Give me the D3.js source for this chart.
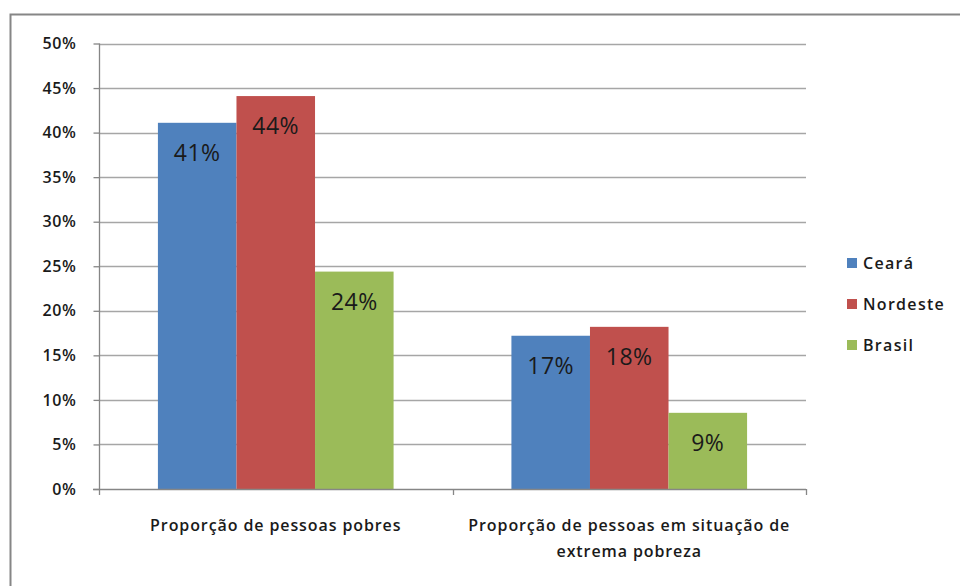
<!DOCTYPE html>
<html><head><meta charset="utf-8">
<script src="https://cdn.jsdelivr.net/npm/d3@7"></script>
<style>body{margin:0;background:#fff}svg{display:block}text{font-family:"Open Sans","Noto Sans",sans-serif}</style>
</head><body>
<svg id="c" width="960" height="586"></svg>
<script>
const categories = ["Proporção de pessoas pobres", "Proporção de pessoas em situação de|extrema pobreza"];
const seriesNames = ["Ceará", "Nordeste", "Brasil"];
const ceara = [0.411, 0.172];
const nordeste = [0.441, 0.182];
const brasil = [0.244, 0.0855];
const tickValues = [0, 0.05, 0.10, 0.15, 0.20, 0.25, 0.30, 0.35, 0.40, 0.45, 0.50];
const colors = ["#4F81BD", "#C0504D", "#9BBB59"];

const series = [ceara, nordeste, brasil];
const svg = d3.select("#c");
svg.append("rect").attr("x",10.5).attr("y",14.5).attr("width",960).attr("height",600)
  .attr("fill","#fff").attr("stroke","#868686").attr("stroke-width",2);

const pL = 99, pR = 806, pT = 43.5, pB = 489;
const lblFont = "'Open Sans', sans-serif";
const y = d3.scaleLinear().domain([0,0.5]).range([pB, pT]);
const x0 = d3.scaleBand().domain(d3.range(categories.length)).range([pL,pR]).paddingInner(1/3).paddingOuter(1/6);
const x1 = d3.scaleBand().domain(d3.range(seriesNames.length)).range([0, x0.bandwidth()]);

// gridlines
svg.append("g").selectAll("line").data(tickValues.slice(1)).join("line")
  .attr("x1",pL).attr("x2",pR).attr("y1",d=>Math.round(y(d))+0.5).attr("y2",d=>Math.round(y(d))+0.5)
  .attr("stroke","#a6a6a6").attr("stroke-width",1.3);

// y axis
const yAx = svg.append("g").attr("transform",`translate(${pL+0.5},0)`)
  .call(d3.axisLeft(y).tickValues(tickValues).tickFormat(d=>Math.round(d*100)+"%").tickSize(6).tickPadding(17));
yAx.select(".domain").attr("stroke","#868686").attr("stroke-width",1.3).attr("d",`M0,${pT}V${pB}`);
yAx.selectAll(".tick line").attr("stroke","#868686").attr("stroke-width",1.3);
yAx.selectAll(".tick text").attr("font-size",16).attr("fill","#1a1a1a").attr("font-weight",600)
  .attr("letter-spacing","0.6px").style("font-family",lblFont);

// bars
const groups = svg.append("g").selectAll("g").data(categories).join("g")
  .attr("transform",(d,i)=>`translate(${x0(i)},0)`);
groups.each(function(c,ci){
  const g = d3.select(this);
  series.forEach((s,si)=>{
    g.append("rect").attr("x",x1(si)).attr("y",y(s[ci])).attr("width",x1.bandwidth()).attr("height",pB-y(s[ci]))
      .attr("fill",colors[si]);
    g.append("text").attr("x",x1(si)+x1.bandwidth()/2).attr("y",y(s[ci])+38)
      .attr("text-anchor","middle").attr("font-size",23).attr("fill","#1a1a1a").attr("letter-spacing","0.5px")
      .text(Math.round(s[ci]*100)+"%");
  });
});

// x axis
svg.append("line").attr("x1",pL-6).attr("x2",pR).attr("y1",pB+0.5).attr("y2",pB+0.5)
  .attr("stroke","#868686").attr("stroke-width",1.3);
[pL, (pL+pR)/2, pR].forEach(v=>{
  svg.append("line").attr("x1",Math.round(v)+0.5).attr("x2",Math.round(v)+0.5).attr("y1",pB).attr("y2",pB+6)
    .attr("stroke","#868686").attr("stroke-width",1.3);
});
categories.forEach((c,i)=>{
  const lines = c.split("|");
  const t = svg.append("text").attr("text-anchor","middle").attr("font-size",16).attr("fill","#1a1a1a")
    .attr("font-weight",600).attr("letter-spacing","0.9px").style("font-family",lblFont);
  lines.forEach((l,li)=>{
    t.append("tspan").attr("x",x0(i)+x0.bandwidth()/2).attr("y",531+li*26).text(l);
  });
});

// legend
const lg = svg.append("g");
seriesNames.forEach((n,i)=>{
  const yy = 263 + i*41;
  lg.append("rect").attr("x",847).attr("y",yy-5).attr("width",10).attr("height",10).attr("fill",colors[i]);
  lg.append("text").attr("x",863).attr("y",yy+6).attr("font-size",16).attr("fill","#1a1a1a").attr("font-weight",600)
    .attr("letter-spacing","1.3px").style("font-family",lblFont).text(n);
});
</script>
</body></html>
